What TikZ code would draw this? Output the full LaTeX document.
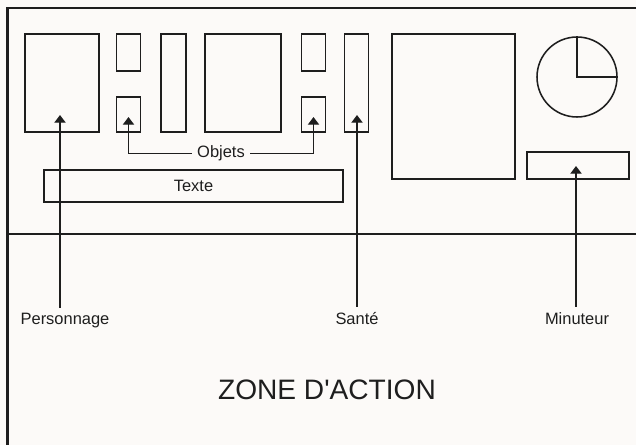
\documentclass[tikz,border=0pt]{standalone}
\usepackage{fontspec}
\setmainfont{Liberation Sans}[Ligatures=TeXOff]
\usetikzlibrary{arrows.meta}
\definecolor{encre}{HTML}{1E1E1E}
\definecolor{papier}{HTML}{FCFAF8}
\def\px{0.025cm}
\begin{document}
\begin{tikzpicture}[
		x=\px, y=-\px,
		>={Triangle[width=8pt,length=5.5pt]},
		boite/.style={draw=encre, text=encre, line width=1.1pt, inner sep=0pt},
		etiquette/.style={font=\fontsize{11.7}{14}\selectfont, text=encre, inner sep=0pt, outer sep=4pt},
		fleche/.style={->, draw=encre, line width=1pt},
		cadre/.style={draw=encre, line width=1.8pt}
	]
		\fill[papier] (0,0) rectangle (636,445);
		\useasboundingbox (0,0) rectangle (636,445);
		\draw[cadre] (7.5,445) -- (7.5,8) -- (636,8);
		\draw[cadre] (7.5,234) -- (636,234);
		\foreach \nom/\x/\w in {perso/62/74, colonne/173.5/25, decor/243/76, sante/356.5/24} {
			\node[boite, minimum width=\w*\px, minimum height=98*\px] (\nom) at (\x,83) {};
		}
		\foreach \nom/\x in {objA/128.5, objB/313.5} {
			\node[boite, minimum width=24*\px, minimum height=37*\px] (\nom-haut) at (\x,52.5) {};
			\node[boite, minimum width=24*\px, minimum height=35*\px] (\nom) at (\x,114.5) {};
		}
		\node[boite, minimum width=123*\px, minimum height=145*\px] (carte) at (453.5,106.5) {};
		\node[boite, circle, minimum size=80*\px] (horloge) at (577,77) {};
		\draw[boite] (horloge.north) -- (horloge.center) -- (horloge.east);
		\node[boite, minimum width=102*\px, minimum height=27*\px] (minuteur) at (578,165.5) {};
		\node[boite, font=\fontsize{11.7}{14}\selectfont, minimum width=299*\px, minimum height=32*\px] (texte) at (193.5,186) {Texte};
		\coordinate (pointeP) at (60,115);
		\coordinate (pointeS) at (357,115);
		\coordinate (pointeM) at (576,166);
		\coordinate (pointeA) at (128.5,117);
		\coordinate (pointeB) at (313.5,117);
		\node[etiquette, anchor=base] (lobjets) at (221,158) {Objets};
		\node[etiquette, anchor=base] (lperso) at (65,324.5) {Personnage};
		\node[etiquette, anchor=base] (lsante) at (357,324.5) {Santé};
		\node[etiquette, anchor=base] (lminuteur) at (577,324.5) {Minuteur};
		\node[font=\fontsize{20}{24}\selectfont, text=encre, anchor=base] (zone) at (327,399) {ZONE D'ACTION};
		\draw[fleche] (lobjets.west) -| (pointeA);
		\draw[fleche] (lobjets.east) -| (pointeB);
		\draw[fleche] (lperso.north -| pointeP) -- (pointeP);
		\draw[fleche] (lsante.north -| pointeS) -- (pointeS);
		\draw[fleche] (lminuteur.north -| pointeM) -- (pointeM);
	\end{tikzpicture}
\end{document}
